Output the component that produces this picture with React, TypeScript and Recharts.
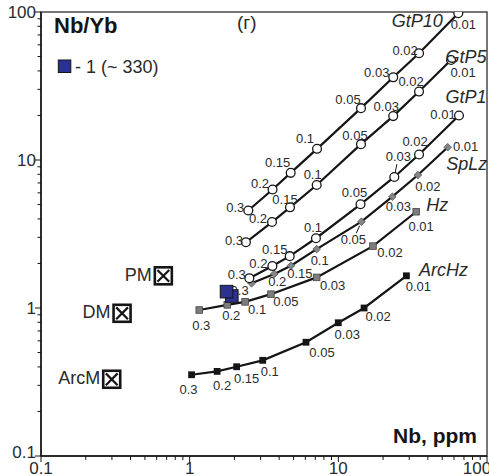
import React from "react";
import { ScatterChart, Scatter, XAxis, YAxis, ReferenceArea } from "recharts";

const FONT = "'Liberation Sans', Arial, Helvetica, sans-serif";
const INK = "#151515";
const TEXT = "#2a2a2a";

// melt fractions marked along each model curve
const MELT = ["0.3", "0.2", "0.15", "0.1", "0.05", "0.03", "0.02", "0.01"];
const MELT_HZ = ["0.3", "0.2", "0.1", "0.05", "0.03", "0.02", "0.01"];

const GTP10_NB = [2.48, 3.61, 4.78, 7.19, 14.2, 23.4, 34.9, 64.1];
const GTP10_RATIO = [4.56, 6.32, 8.19, 11.9, 22.4, 36.2, 52.6, 98.0];

const GTP5_NB = [2.39, 3.58, 4.73, 7.15, 14.2, 23.4, 34.9, 57.3];
const GTP5_RATIO = [2.78, 3.81, 4.79, 6.78, 12.8, 19.8, 29.0, 47.4];

const GTP1_NB = [2.52, 3.6, 4.71, 7.07, 14.1, 23.8, 34.9, 64.8];
const GTP1_RATIO = [1.59, 1.92, 2.24, 2.96, 5.02, 7.68, 10.9, 20.0];

const SPLZ_NB = [2.61, 3.71, 4.8, 7.15, 14.3, 23.1, 34.3, 54.4];
const SPLZ_RATIO = [1.47, 1.7, 1.93, 2.5, 3.83, 5.65, 7.92, 12.2];

const HZ_NB = [1.16, 1.79, 2.36, 3.52, 7.15, 17.1, 33.4];
const HZ_RATIO = [0.969, 1.05, 1.1, 1.24, 1.61, 2.62, 4.47];

const ARCHZ_NB = [1.03, 1.53, 2.07, 3.1, 6.06, 9.99, 14.9, 28.7];
const ARCHZ_RATIO = [0.354, 0.373, 0.401, 0.443, 0.587, 0.795, 1.0, 1.65];

// mantle reservoirs
const RES_NAMES = ["PM", "DM", "ArcM"];
const RES_NB = [0.665, 0.351, 0.299];
const RES_RATIO = [1.65, 0.921, 0.33];

// sample 1 (~330)
const SAMPLE_NB = [1.92, 1.77];
const SAMPLE_RATIO = [1.205, 1.29];

const MAJOR = [0.1, 1, 10, 100];
const TICKS = [
  0.1, 0.2, 0.3, 0.4, 0.5, 0.6, 0.7, 0.8, 0.9,
  1, 2, 3, 4, 5, 6, 7, 8, 9,
  10, 20, 30, 40, 50, 60, 70, 80, 90,
  100,
];

// label offsets (px) from each marker, per curve
const LABEL_POS: Record<string, number[][]> = {
  gtp10: [[-13, -3], [-12.5, -5.5], [-13, -10], [-12, -10.5], [-13, -9], [-16.5, -4.6], [-14, -2.6], [5, 11]],
  gtp5: [[-12, -2], [-14, -4], [-5, -8], [-4, -10], [-6, -9], [-7, -10], [-8, -10], [12, 13]],
  gtp1: [[-12.6, -3.3], [-14, -3], [-15, -7], [-3, -11], [-6, -12], [4, -20], [-4, -13], [-16, -1]],
  splz: [[-12, 7], [3, 8], [9, 8], [3, 11], [-8, 18], [6, 10], [10, 12], [18, -1]],
  hz: [[2, 15], [4, 11], [12, 8], [15, 7], [16, 8], [17, 6], [5, 15]],
  archz: [[-3, 15], [5, 14], [10, 12], [7, 11], [16, 10], [9, 12], [14, 8], [12, 11]],
};
const LEADER: Record<string, number> = { gtp1: 5, splz: 4 };
const NAME_POS: Record<string, number[]> = {
  gtp10: [-41, 8],
  gtp5: [15, -3],
  gtp1: [7, -18],
  splz: [19, 17],
  hz: [21, -7],
  archz: [37, -6],
};

const rows = (nb: number[], ratio: number[], melt: string[]) =>
  nb.map((x, i) => ({ x, y: ratio[i], f: melt[i], i }));

type Marker = "circle" | "diamond" | "greySquare" | "blackSquare";

function markerEl(m: Marker, cx: number, cy: number) {
  if (m === "circle")
    return <circle cx={cx} cy={cy} r={4.4} fill="#fff" stroke={INK} strokeWidth={1.3} />;
  if (m === "diamond")
    return (
      <polygon
        points={`${cx},${cy - 3.8} ${cx + 3.8},${cy} ${cx},${cy + 3.8} ${cx - 3.8},${cy}`}
        fill="#858585"
        stroke="#505050"
        strokeWidth={0.8}
      />
    );
  if (m === "greySquare")
    return <rect x={cx - 3.3} y={cy - 3.3} width={6.6} height={6.6} fill="#7d7d7d" stroke="#444" strokeWidth={0.8} />;
  return <rect x={cx - 3.4} y={cy - 3.4} width={6.8} height={6.8} fill={INK} />;
}

function curveShape(m: Marker, key: string, name: string, count: number) {
  return (p: any) => {
    const { cx, cy, payload } = p;
    const i = payload.i;
    const [dx, dy] = LABEL_POS[key][i];
    const lead = LEADER[key] === i;
    const last = i === count - 1;
    return (
      <g>
        {markerEl(m, cx, cy)}
        {lead && (
          <line
            x1={cx + dx * 0.22}
            y1={cy + dy * 0.22}
            x2={cx + dx * 0.64}
            y2={cy + dy * 0.64}
            stroke={INK}
            strokeWidth={1}
          />
        )}
        <text
          x={cx + dx}
          y={cy + dy}
          textAnchor="middle"
          dominantBaseline="central"
          fontSize={13}
          fill={TEXT}
          fontFamily={FONT}
        >
          {payload.f}
        </text>
        {last && (
          <text
            x={cx + NAME_POS[key][0]}
            y={cy + NAME_POS[key][1]}
            textAnchor="middle"
            dominantBaseline="central"
            fontSize={18}
            fontStyle="italic"
            fill={TEXT}
            fontFamily={FONT}
          >
            {name}
          </text>
        )}
      </g>
    );
  };
}

const reservoirShape = (p: any) => {
  const { cx, cy, payload } = p;
  const h = 8.5;
  const k = h - 2.6;
  return (
    <g>
      <rect x={cx - h} y={cy - h} width={2 * h} height={2 * h} fill="#fff" stroke={INK} strokeWidth={2.6} />
      <line x1={cx - k} y1={cy - k} x2={cx + k} y2={cy + k} stroke={INK} strokeWidth={2.2} />
      <line x1={cx - k} y1={cy + k} x2={cx + k} y2={cy - k} stroke={INK} strokeWidth={2.2} />
      <text
        x={cx - h - 3}
        y={cy - 1}
        textAnchor="end"
        dominantBaseline="central"
        fontSize={18}
        fill={TEXT}
        fontFamily={FONT}
      >
        {payload.name}
      </text>
    </g>
  );
};

const sampleShape = (p: any) => {
  const { cx, cy } = p;
  return <rect x={cx - 6.3} y={cy - 6.3} width={12.6} height={12.6} fill="#2b3192" stroke={INK} strokeWidth={1} />;
};

function XTick(props: any) {
  const { x, y, payload } = props;
  const v = payload.value;
  const major = MAJOR.includes(v);
  const lastTick = v === 100;
  return (
    <g>
      <line x1={x} y1={y} x2={x} y2={y + (major ? 6 : 4)} stroke={INK} strokeWidth={1} />
      {major && (
        <text
          x={lastTick ? x - 10 : x}
          y={y + 12}
          textAnchor="middle"
          dominantBaseline="central"
          fontSize={17}
          fill={TEXT}
          fontFamily={FONT}
        >
          {String(v)}
        </text>
      )}
    </g>
  );
}

function YTick(props: any) {
  const { x, y, payload } = props;
  const v = payload.value;
  const major = MAJOR.includes(v);
  return (
    <g>
      <line x1={x - (major ? 6 : 3.5)} y1={y} x2={x} y2={y} stroke={INK} strokeWidth={1} />
      {major && (
        <text
          x={x - 5}
          y={v === 0.1 ? y - 4 : y}
          textAnchor="end"
          dominantBaseline="central"
          fontSize={17}
          fill={TEXT}
          fontFamily={FONT}
        >
          {String(v)}
        </text>
      )}
    </g>
  );
}

export default function App() {
  const lineStyle = { stroke: INK, strokeWidth: 2.2 };
  const reservoirs = RES_NB.map((x, i) => ({ x, y: RES_RATIO[i], name: RES_NAMES[i] }));
  const sample = SAMPLE_NB.map((x, i) => ({ x, y: SAMPLE_RATIO[i] }));

  return (
    <div style={{ position: "absolute", left: 0, top: 0, width: 489, height: 476, background: "#fff" }}>
      <ScatterChart width={489} height={476} margin={{ top: 12, right: 2, bottom: 0, left: 0 }}>
        <XAxis
          type="number"
          dataKey="x"
          scale="log"
          domain={[0.1, 100]}
          allowDataOverflow
          ticks={TICKS}
          interval={0}
          tick={<XTick />}
          tickLine={false}
          tickSize={0}
          tickMargin={0}
          height={20}
          axisLine={{ stroke: INK, strokeWidth: 1.5 }}
        />
        <YAxis
          type="number"
          dataKey="y"
          scale="log"
          domain={[0.1, 100]}
          allowDataOverflow
          ticks={TICKS}
          interval={0}
          tick={<YTick />}
          tickLine={false}
          tickSize={0}
          tickMargin={0}
          width={41}
          axisLine={{ stroke: INK, strokeWidth: 1.5 }}
        />
        <ReferenceArea x1={0.1} x2={100} y1={0.1} y2={100} fill="none" stroke="#4a4a4a" strokeWidth={1.5} />
        <Scatter data={reservoirs} shape={reservoirShape} isAnimationActive={false} />
        <Scatter
          data={rows(ARCHZ_NB, ARCHZ_RATIO, MELT)}
          line={lineStyle}
          shape={curveShape("blackSquare", "archz", "ArcHz", ARCHZ_NB.length)}
          isAnimationActive={false}
        />
        <Scatter
          data={rows(HZ_NB, HZ_RATIO, MELT_HZ)}
          line={lineStyle}
          shape={curveShape("greySquare", "hz", "Hz", HZ_NB.length)}
          isAnimationActive={false}
        />
        <Scatter
          data={rows(SPLZ_NB, SPLZ_RATIO, MELT)}
          line={lineStyle}
          shape={curveShape("diamond", "splz", "SpLz", SPLZ_NB.length)}
          isAnimationActive={false}
        />
        <Scatter
          data={rows(GTP1_NB, GTP1_RATIO, MELT)}
          line={lineStyle}
          shape={curveShape("circle", "gtp1", "GtP1", GTP1_NB.length)}
          isAnimationActive={false}
        />
        <Scatter
          data={rows(GTP5_NB, GTP5_RATIO, MELT)}
          line={lineStyle}
          shape={curveShape("circle", "gtp5", "GtP5", GTP5_NB.length)}
          isAnimationActive={false}
        />
        <Scatter
          data={rows(GTP10_NB, GTP10_RATIO, MELT)}
          line={lineStyle}
          shape={curveShape("circle", "gtp10", "GtP10", GTP10_NB.length)}
          isAnimationActive={false}
        />
        <Scatter data={sample} shape={sampleShape} isAnimationActive={false} />
      </ScatterChart>
      <svg
        width={489}
        height={476}
        style={{ position: "absolute", left: 0, top: 0, pointerEvents: "none" }}
        fontFamily={FONT}
      >
        <text x={54} y={32.5} fontSize={22} fontWeight="bold" fill={INK}>
          Nb/Yb
        </text>
        <text x={237} y={29} fontSize={19} fill={TEXT}>
          (г)
        </text>
        <rect x={58.3} y={60} width={12.5} height={12.5} fill="#2b3192" stroke={INK} strokeWidth={1} />
        <text x={75} y={72.7} fontSize={18} fill={TEXT}>
          - 1 (~ 330)
        </text>
        <text x={477} y={443} textAnchor="end" fontSize={21} fontWeight="bold" fill={INK}>
          Nb, ppm
        </text>
      </svg>
    </div>
  );
}
